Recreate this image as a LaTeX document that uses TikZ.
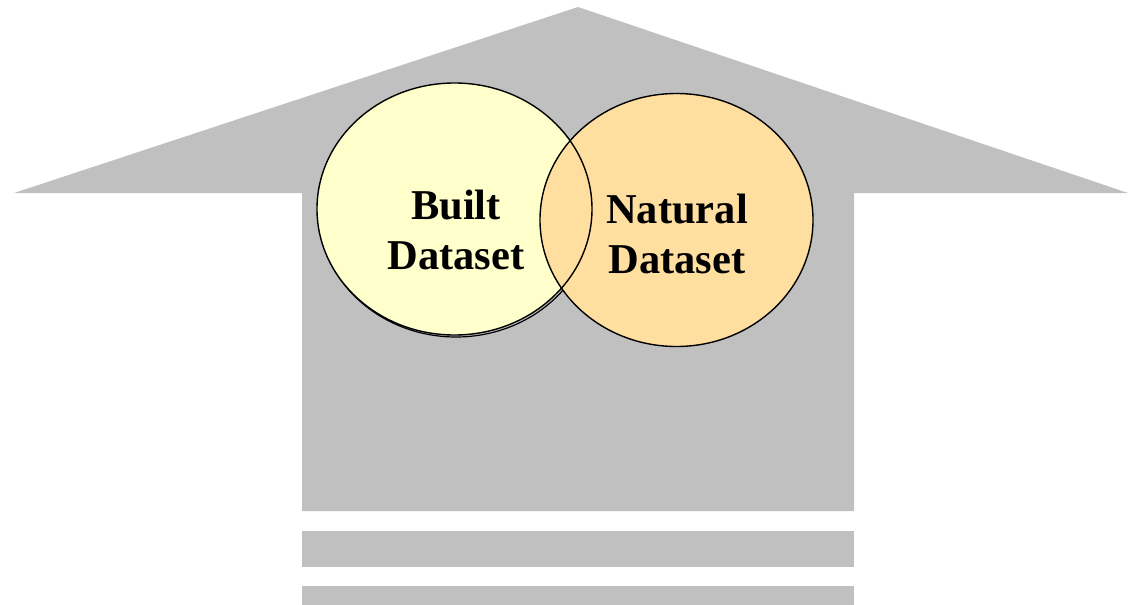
\documentclass[tikz,border=0pt]{standalone}
\usepackage{fontspec}
\setmainfont{Liberation Serif}
\definecolor{arrowgray}{HTML}{C0C0C0}
\definecolor{builtfill}{HTML}{FFFFCC}
\definecolor{naturalfill}{HTML}{FFDFA0}
\begin{document}
\begin{tikzpicture}[x=1pt,y=-1pt,
  setlabel/.style={font=\fontsize{42.5}{50}\selectfont\bfseries, align=center, inner sep=0pt},
  setline/.style={draw=black, line width=1.4pt}]
\useasboundingbox (0,0) rectangle (1128,605);
% upward arrow with stacked bars below
\fill[arrowgray] (578,7) -- (1128,193) -- (854,193) -- (854,511) -- (302,511) -- (302,193) -- (14,193) -- cycle;
\fill[arrowgray] (302,531) rectangle (854,567);
\fill[arrowgray] (302,586) rectangle (854,605);
% overlapping sets
\draw[line width=1.2pt] (456,211) ellipse [x radius=137.5, y radius=126];
\fill[builtfill] (454.5,209) ellipse [x radius=137.5, y radius=126];
\draw[setline, fill=naturalfill] (676.5,220) ellipse [x radius=136.5, y radius=126.5];
\draw[setline] (454.5,209) ellipse [x radius=137.5, y radius=126];
\node[setlabel] (built) at (456,230) {Built\\Dataset};
\node[setlabel] (natural) at (677,234) {Natural\\Dataset};
\end{tikzpicture}
\end{document}
